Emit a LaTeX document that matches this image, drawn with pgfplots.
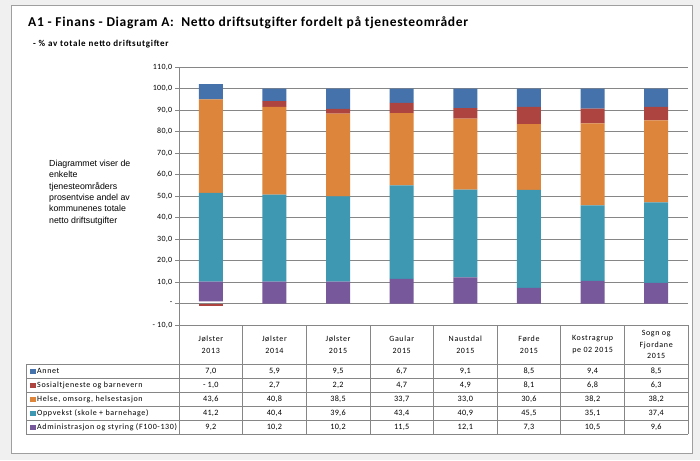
\documentclass[border=0pt]{standalone}
\usepackage{fontspec}
\setmainfont{Carlito}
\newfontfamily\arialfont{Liberation Sans}
\newfontfamily\tickfont[LetterSpace=4]{Carlito}
\newfontfamily\cellfont[LetterSpace=8]{Carlito}
\newfontfamily\numfont[LetterSpace=3]{Carlito}
\newfontfamily\titlefont[LetterSpace=5]{Carlito}
\newfontfamily\subfont[LetterSpace=8]{Carlito}
\usepackage{pgfplots}
\pgfplotsset{compat=1.18}
\usepackage{pgfplotstable}

\definecolor{cAnnet}{HTML}{4672AC}
\definecolor{cSos}{HTML}{AE4440}
\definecolor{cHelse}{HTML}{DD853A}
\definecolor{cOpp}{HTML}{3E98B2}
\definecolor{cAdm}{HTML}{77589A}
\definecolor{cGrid}{HTML}{868686}
\definecolor{cBg}{HTML}{F0F0F0}

% sosneg = negative part of Sosialtjeneste (stacked below zero, as Excel does),
% dummy = invisible lift back to zero, sospos = positive part
\pgfplotstableread{
x annet sosneg dummy sospos helse oppvekst admin
0 7.0 -1.0 1.0 0.0 43.6 41.2 9.2
1 5.9 0.0 0.0 2.7 40.8 40.4 10.2
2 9.5 0.0 0.0 2.2 38.5 39.6 10.2
3 6.7 0.0 0.0 4.7 33.7 43.4 11.5
4 9.1 0.0 0.0 4.9 33.0 40.9 12.1
5 8.5 0.0 0.0 8.1 30.6 45.5 7.3
6 9.4 0.0 0.0 6.8 38.2 35.1 10.5
7 8.5 0.0 0.0 6.3 38.2 37.4 9.6
}\data

\begin{document}
\begin{tikzpicture}
\begin{scope}[x=1pt,y=1pt]
\fill[cBg] (0,0) rectangle (700,-460);
\draw[fill=white, draw=gray!75] (11,-5) rectangle (692,-453);

\node[anchor=base west, font=\titlefont\fontsize{13.5}{15}\selectfont\bfseries, inner sep=0pt] at (28,-27)
  {A1 - Finans - Diagram A:\ \ Netto driftsutgifter fordelt på tjenesteområder};
\node[anchor=base west, font=\subfont\fontsize{9}{10}\selectfont\bfseries, inner sep=0pt] at (33,-46)
  {- \% av totale netto driftsutgifter};

\node[anchor=north west, align=left, inner sep=0pt,
      font=\arialfont\fontsize{8.8}{11.3}\selectfont] at (49,-160)
  {Diagrammet viser de\\enkelte\\tjenesteområders\\prosentvise andel av\\kommunenes totale\\netto driftsutgifter};
\end{scope}

\begin{axis}[
  at={(179pt,-325pt)}, anchor=south west,
  scale only axis, width=509pt, height=258pt,
  ymin=-10, ymax=110, xmin=-0.5, xmax=7.5,
  ybar stacked, bar width=24pt,
  axis lines*=left,
  axis line style={cGrid},
  xtick=\empty,
  ytick={-10,0,10,20,30,40,50,60,70,80,90,100,110},
  yticklabels={{- 10,0},{-},{10,0},{20,0},{30,0},{40,0},{50,0},{60,0},{70,0},{80,0},{90,0},{100,0},{110,0}},
  yticklabel style={font=\tickfont\fontsize{8}{9}\selectfont, inner sep=1pt, xshift=-1.5pt},
  ymajorgrids, grid style={cGrid, line width=0.6pt},
  tick align=outside, major tick length=4pt,
  ytick style={cGrid},
]
\addplot[fill=cSos, draw=none] table[x=x, y=sosneg]{\data};
\addplot[fill=none, draw=none] table[x=x, y=dummy]{\data};
\addplot[fill=cAdm, draw=none] table[x=x, y=admin]{\data};
\addplot[fill=cOpp, draw=none] table[x=x, y=oppvekst]{\data};
\addplot[fill=cHelse, draw=none] table[x=x, y=helse]{\data};
\addplot[fill=cSos, draw=none] table[x=x, y=sospos]{\data};
\addplot[fill=cAnnet, draw=none] table[x=x, y=annet]{\data};
\end{axis}

% data table
\begin{scope}[x=1pt,y=1pt]
\def\cw{63.625}
\begin{scope}[cGrid, line width=0.6pt]
  \foreach \k in {0,...,8} { \draw ({179+\cw*\k},-325) -- ({179+\cw*\k},-434); }
  \foreach \yy in {364,378,392,406,420,434} { \draw (26,-\yy) -- (688,-\yy); }
  \draw (26,-364) -- (26,-434);
  \draw (179,-325) -- (688,-325);
\end{scope}

\tikzset{cell/.style={font=\cellfont\fontsize{8}{11.5}\selectfont, align=center, inner sep=0pt},
         num/.style={font=\numfont\fontsize{8.2}{10}\selectfont, inner sep=0pt}}
\foreach \lab [count=\i from 0] in {{Jølster\\2013},{Jølster\\2014},{Jølster\\2015},{Gaular\\2015},{Naustdal\\2015},{Førde\\2015},{Kostragrup\\pe 02 2015},{Sogn og\\Fjordane\\2015}} {
  \node[cell] at ({179+\cw*(\i+0.5)},-344.5) {\lab};
}

\foreach \row/\col/\name [count=\r from 0] in {
  {{7,0},{5,9},{9,5},{6,7},{9,1},{8,5},{9,4},{8,5}}/cAnnet/Annet,
  {{- 1,0},{2,7},{2,2},{4,7},{4,9},{8,1},{6,8},{6,3}}/cSos/Sosialtjeneste og barnevern,
  {{43,6},{40,8},{38,5},{33,7},{33,0},{30,6},{38,2},{38,2}}/cHelse/{Helse, omsorg, helsestasjon},
  {{41,2},{40,4},{39,6},{43,4},{40,9},{45,5},{35,1},{37,4}}/cOpp/Oppvekst (skole + barnehage),
  {{9,2},{10,2},{10,2},{11,5},{12,1},{7,3},{10,5},{9,6}}/cAdm/Administrasjon og styring (F100-130)} {
  \pgfmathsetmacro{\yc}{-(371+14*\r)}
  \fill[\col] (30,{\yc-2.5}) rectangle (35.5,{\yc+2.5});
  \node[cell, anchor=west] at (37,\yc) {\name};
  \foreach \v [count=\j from 0] in \row {
    \node[num] at ({179+\cw*(\j+0.5)},\yc) {\v};
  }
}
\end{scope}

\pgfresetboundingbox
\useasboundingbox (0pt,0pt) rectangle (700pt,-460pt);
\end{tikzpicture}
\end{document}
